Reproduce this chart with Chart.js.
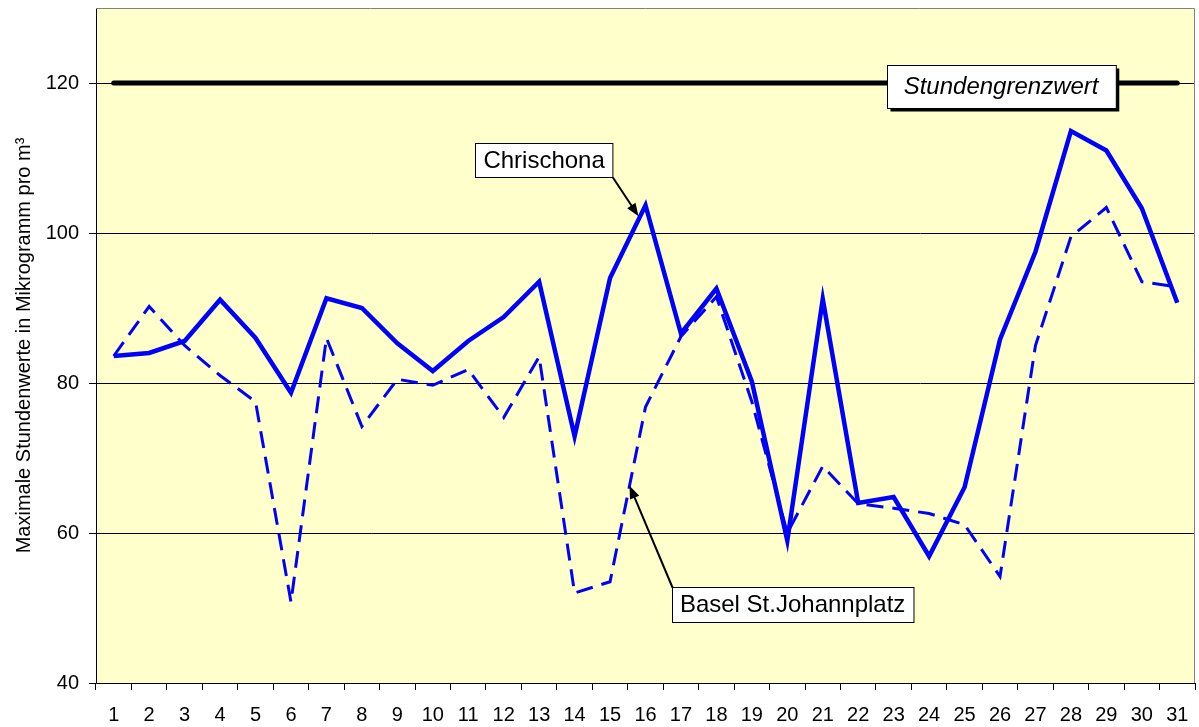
<!DOCTYPE html>
<html>
<head>
<meta charset="utf-8">
<script src="https://cdn.jsdelivr.net/npm/chart.js@4"></script>
<style>
  body { margin: 0; background: #fff; }
  canvas { display: block; }
</style>
</head>
<body>
<canvas id="myChart" width="1199" height="727"></canvas>
<script>
// ==== data
const days = ['1', '2', '3', '4', '5', '6', '7', '8', '9', '10', '11', '12', '13', '14', '15', '16',
  '17', '18', '19', '20', '21', '22', '23', '24', '25', '26', '27', '28', '29', '30', '31'];

const chrischona = [83.6, 84.0, 85.6, 91.1, 86.0, 78.7, 91.3, 90.0, 85.3, 81.6, 85.6, 88.8, 93.5, 72.9, 94.0, 103.7,
  86.6, 92.6, 80.2, 59.0, 91.2, 64.0, 64.8, 56.9, 66.1, 85.8, 97.5, 113.6, 111.0, 103.3, 90.7];

const basel = [83.6, 90.2, 85.0, 81.0, 77.5, 50.8, 86.0, 74.2, 80.5, 79.7, 81.8, 75.4, 83.5, 52.0, 53.5, 76.8,
  86.2, 91.5, 77.5, 60.0, 68.9, 63.9, 63.3, 62.6, 61.1, 54.2, 85.0, 99.5, 103.4, 93.5, 92.8];

const yTicks = [40, 60, 80, 100, 120];
const limitValue = 120; // Stundengrenzwert

const FONT = "'Liberation Sans', Arial, sans-serif";

// ==== plot background + frame
const plotBackground = {
  id: 'plotBackground',
  beforeDraw(chart) {
    const { ctx, chartArea: a } = chart;
    ctx.save();
    ctx.fillStyle = '#FFFFCC';
    ctx.fillRect(a.left, a.top, a.right - a.left, a.bottom - a.top);
    ctx.restore();
  },
  afterDraw(chart) {
    const { ctx, chartArea: a } = chart;
    ctx.save();
    ctx.strokeStyle = '#808080';
    ctx.lineWidth = 1;
    ctx.beginPath();
    ctx.moveTo(a.left, a.top + 0.5);
    ctx.lineTo(a.right - 0.5, a.top + 0.5);
    ctx.lineTo(a.right - 0.5, a.bottom);
    ctx.stroke();
    ctx.restore();
  }
};

// ==== limit line + labels with arrows
function drawBox(ctx, cx, cy, text, font, padX, h, shadow) {
  ctx.font = font;
  const w = ctx.measureText(text).width + padX * 2;
  const x = Math.round(cx - w / 2) + 0.5;
  const y = Math.round(cy - h / 2) + 0.5;
  if (shadow) {
    ctx.fillStyle = '#000';
    ctx.fillRect(x + 3, y + 3, w, h);
  }
  ctx.fillStyle = '#fff';
  ctx.fillRect(x, y, w, h);
  ctx.strokeStyle = '#000';
  ctx.lineWidth = 1;
  ctx.strokeRect(x, y, w, h);
  ctx.fillStyle = '#000';
  ctx.textAlign = 'center';
  ctx.textBaseline = 'middle';
  ctx.fillText(text, cx, cy + 1);
  return { left: x, top: y, right: x + w, bottom: y + h };
}

function drawArrow(ctx, x1, y1, x2, y2) {
  const ang = Math.atan2(y2 - y1, x2 - x1);
  const len = 13, half = 5;
  ctx.strokeStyle = '#000';
  ctx.lineWidth = 2;
  ctx.beginPath();
  ctx.moveTo(x1, y1);
  ctx.lineTo(x2 - Math.cos(ang) * len * 0.8, y2 - Math.sin(ang) * len * 0.8);
  ctx.stroke();
  ctx.fillStyle = '#000';
  ctx.beginPath();
  ctx.moveTo(x2, y2);
  ctx.lineTo(x2 - Math.cos(ang) * len - Math.sin(ang) * half, y2 - Math.sin(ang) * len + Math.cos(ang) * half);
  ctx.lineTo(x2 - Math.cos(ang) * len + Math.sin(ang) * half, y2 - Math.sin(ang) * len - Math.cos(ang) * half);
  ctx.closePath();
  ctx.fill();
}

const annotations = {
  id: 'annotations',
  afterDatasetsDraw(chart) {
    const { ctx, scales: { x, y } } = chart;
    ctx.save();

    // limit line from first to last day
    const ly = y.getPixelForValue(limitValue);
    ctx.strokeStyle = '#000';
    ctx.lineWidth = 5;
    ctx.lineCap = 'round';
    ctx.beginPath();
    ctx.moveTo(x.getPixelForValue(0), ly);
    ctx.lineTo(x.getPixelForValue(days.length - 1), ly);
    ctx.stroke();
    ctx.lineCap = 'butt';

    drawBox(ctx, x.getPixelForValue(25.03), y.getPixelForValue(119.5),
      'Stundengrenzwert', 'italic 24px ' + FONT, 17, 43, true);

    // Chrischona
    const c = drawBox(ctx, x.getPixelForValue(12.14), y.getPixelForValue(109.7),
      'Chrischona', '24px ' + FONT, 8, 34, false);
    const p = chart.getDatasetMeta(0).data[15];
    drawArrow(ctx, c.right, c.bottom, p.x - 7, p.y + 11);

    // Basel St.Johannplatz
    const b = drawBox(ctx, x.getPixelForValue(19.15), y.getPixelForValue(50.5),
      'Basel St.Johannplatz', '24px ' + FONT, 8, 35, false);
    const d = chart.getDatasetMeta(1).data;
    const t = 0.55;
    drawArrow(ctx, b.left, b.top, d[14].x + (d[15].x - d[14].x) * t, d[14].y + (d[15].y - d[14].y) * t);

    ctx.restore();
  }
};

// config
const config = {
  type: 'line',
  data: {
    labels: days,
    datasets: [{
        label: 'Chrischona',
        data: chrischona,
        borderColor: '#0000FF',
        borderWidth: 4.5,
        pointRadius: 0,
        tension: 0,
        fill: false
      },
      {
        label: 'Basel St.Johannplatz',
        data: basel,
        borderColor: '#0000FF',
        borderWidth: 3,
        borderDash: [17, 9],
        pointRadius: 0,
        tension: 0,
        fill: false
      }
    ]
  },
  options: {
    responsive: false,
    animation: false,
    layout: { padding: { top: 8, right: 4, left: 0, bottom: 0 } },
    plugins: {
      legend: { display: false },
      tooltip: { enabled: false }
    },
    scales: {
      x: {
        offset: true,
        grid: {
          offset: true,
          drawOnChartArea: false,
          drawTicks: true,
          tickLength: 7,
          color: '#000'
        },
        border: { color: '#000', width: 1 },
        ticks: {
          color: '#000',
          font: { family: FONT, size: 20 },
          padding: 13,
          maxRotation: 0,
          autoSkip: false
        },
        afterFit(scale) {
          scale.height = 44;
          scale.paddingLeft = 0;
          scale.paddingRight = 0;
        }
      },
      y: {
        min: 40,
        max: 130,
        afterBuildTicks(scale) {
          scale.ticks = yTicks.map(v => ({ value: v }));
        },
        grid: {
          color: '#000',
          lineWidth: 1,
          tickLength: 7
        },
        border: { color: '#000', width: 1 },
        ticks: {
          color: '#000',
          font: { family: FONT, size: 20 },
          padding: 10
        },
        title: {
          display: true,
          text: 'Maximale Stundenwerte in Mikrogramm pro m³',
          color: '#000',
          font: { family: FONT, size: 20 },
          padding: { top: 12, bottom: 0 }
        },
        afterFit(scale) {
          scale.width = 96;
          scale.paddingTop = 0;
          scale.paddingBottom = 0;
        }
      }
    }
  },
  plugins: [plotBackground, annotations]
};

// render init block
const myChart = new Chart(document.getElementById('myChart'), config);
</script>
</body>
</html>
